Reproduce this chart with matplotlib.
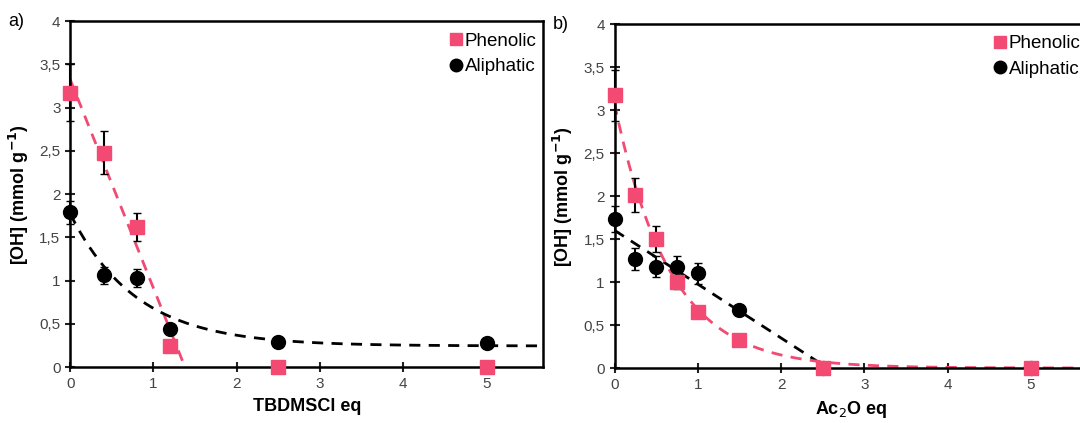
import numpy as np
import matplotlib.pyplot as plt
from matplotlib.lines import Line2D

plt.rcParams['font.family'] = ['Liberation Sans', 'DejaVu Sans']

# panel a: TBDMSCl
xa = np.array([0, 0.4, 0.8, 1.2, 2.5, 5])
phen_a = np.array([3.17, 2.48, 1.62, 0.24, 0.0, 0.0])
phen_a_err = np.array([0.33, 0.25, 0.16, 0, 0, 0])
ali_a = np.array([1.79, 1.06, 1.03, 0.44, 0.29, 0.28])
ali_a_err = np.array([0.13, 0.1, 0.1, 0, 0, 0])

# panel b: Ac2O
xb = np.array([0, 0.25, 0.5, 0.75, 1.0, 1.5, 2.5, 5])
phen_b = np.array([3.17, 2.01, 1.50, 1.00, 0.65, 0.33, 0.0, 0.0])
phen_b_err = np.array([0.3, 0.2, 0.15, 0.08, 0, 0, 0, 0])
ali_b = np.array([1.73, 1.27, 1.18, 1.18, 1.10, 0.68, 0.0, 0.0])
ali_b_err = np.array([0.15, 0.13, 0.12, 0.12, 0.12, 0, 0, 0])

pink = '#F24A72'
yticks = [0, 0.5, 1, 1.5, 2, 2.5, 3, 3.5, 4]
ylabels = ['0', '0,5', '1', '1,5', '2', '2,5', '3', '3,5', '4']


def exp_offset_fit(x, y):
    # y = c + A*exp(-k x), scan k and solve linear part
    best = None
    for k in np.linspace(0.2, 4, 400):
        M = np.column_stack([np.ones_like(x), np.exp(-k * x)])
        coef, res, _, _ = np.linalg.lstsq(M, y, rcond=None)
        err = np.sum((M @ coef - y) ** 2)
        if best is None or err < best[0]:
            best = (err, k, coef)
    return best[1], best[2]


def style(ax, xlabel, tag, leg_x):
    ax.set_xlim(0, 5.68)
    ax.set_ylim(0, 4)
    ax.set_xticks([0, 1, 2, 3, 4, 5])
    ax.set_yticks(yticks)
    ax.set_yticklabels(ylabels)
    ax.tick_params(direction='inout', length=7, width=1.5, labelsize=11,
                   colors='#222222', labelcolor='#444444')
    for s in ax.spines.values():
        s.set_linewidth(1.8)
    ax.set_xlabel(xlabel, fontsize=13, fontweight='bold', labelpad=5)
    ax.set_ylabel('[OH] (mmol g$^{\\mathbf{-1}}$)', fontsize=13, fontweight='bold',
                  labelpad=6)
    ax.text(-0.13, 1.0, tag, transform=ax.transAxes, fontsize=13, va='center')
    handles = [Line2D([], [], ls='none', marker='s', ms=9, color=pink),
               Line2D([], [], ls='none', marker='o', ms=9, color='black')]
    ax.legend(handles, ['Phenolic', 'Aliphatic'], loc='upper left',
              bbox_to_anchor=(leg_x, 1.0), frameon=False, fontsize=13.5,
              handlelength=0.6, handletextpad=0.15, labelspacing=0.45,
              borderaxespad=0.2)


fig = plt.figure(figsize=(10.8, 4.23), dpi=100)
ax1 = fig.add_axes([0.065, 0.132, 0.438, 0.818])
ax2 = fig.add_axes([0.569, 0.13, 0.438, 0.813])

dash = dict(lw=2, dashes=(4, 3))
mk = dict(capsize=3, elinewidth=1.5, ecolor='black', clip_on=False)

# panel a trend lines
p = np.polyfit(xa[:4], phen_a[:4], 1)
x0 = -p[1] / p[0]
xl = np.linspace(0, x0, 50)
ax1.plot(xl, np.polyval(p, xl), '--', color=pink, **dash)
k, (c, A) = exp_offset_fit(xa, ali_a)
xs = np.linspace(0, 5.68, 200)
ax1.plot(xs, c + A * np.exp(-k * xs), '--', color='black', **dash)

ax1.errorbar(xa, ali_a, yerr=ali_a_err, fmt='o', color='black', ms=10, zorder=3, **mk)
ax1.errorbar(xa, phen_a, yerr=phen_a_err, fmt='s', color=pink, ms=10, zorder=4, **mk)
style(ax1, 'TBDMSCl eq', 'a)', 0.78)

# panel b trend lines
pl = np.polyfit(xb[:7], ali_b[:7], 1)
xz = -pl[1] / pl[0]
xl = np.linspace(0, xz, 50)
ax2.plot(xl, np.polyval(pl, xl), '--', color='black', **dash)
pe = np.polyfit(xb[:6], np.log(phen_b[:6]), 1)
ax2.plot(xs, np.exp(pe[1]) * np.exp(pe[0] * xs), '--', color=pink, **dash)

ax2.errorbar(xb, ali_b, yerr=ali_b_err, fmt='o', color='black', ms=10, zorder=3, **mk)
ax2.errorbar(xb, phen_b, yerr=phen_b_err, fmt='s', color=pink, ms=10, zorder=4, **mk)
style(ax2, 'Ac$_2$O eq', 'b)', 0.78)

fig.savefig('out.png', dpi=100)
